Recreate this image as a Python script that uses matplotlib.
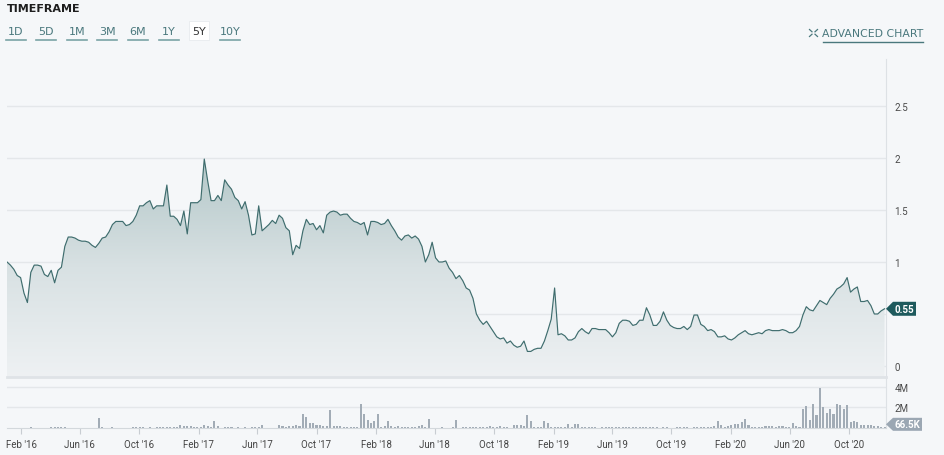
import numpy as np
import pandas as pd
import matplotlib
matplotlib.use('Agg')
import matplotlib.pyplot as plt
import matplotlib.dates as mdates
from matplotlib.colors import LinearSegmentedColormap
from matplotlib.patches import Polygon, PathPatch, Rectangle
from matplotlib.lines import Line2D

plt.rcParams['font.family'] = ['Roboto', 'DejaVu Sans']

# ---------------- data (weekly) ----------------
start_date = '2016-01-03'
price = [
    1.00, 0.97, 0.93, 0.87, 0.85, 0.70, 0.61, 0.90, 0.97, 0.97,
    0.96, 0.88, 0.86, 0.92, 0.80, 0.92, 0.95, 1.15, 1.24, 1.24,
    1.23, 1.21, 1.20, 1.20, 1.19, 1.16, 1.14, 1.18, 1.23, 1.24,
    1.29, 1.36, 1.39, 1.39, 1.39, 1.35, 1.36, 1.39, 1.45, 1.54,
    1.54, 1.57, 1.59, 1.51, 1.54, 1.54, 1.54, 1.74, 1.44, 1.44,
    1.41, 1.35, 1.49, 1.27, 1.57, 1.57, 1.57, 1.60, 1.99, 1.78,
    1.59, 1.59, 1.64, 1.59, 1.79, 1.74, 1.70, 1.62, 1.59, 1.51,
    1.58, 1.45, 1.26, 1.27, 1.54, 1.30, 1.33, 1.36, 1.40, 1.37,
    1.45, 1.42, 1.33, 1.30, 1.07, 1.16, 1.13, 1.30, 1.41, 1.36,
    1.37, 1.31, 1.35, 1.28, 1.45, 1.48, 1.49, 1.48, 1.45, 1.46,
    1.46, 1.42, 1.39, 1.38, 1.36, 1.38, 1.26, 1.39, 1.39, 1.38,
    1.36, 1.37, 1.41, 1.35, 1.30, 1.24, 1.21, 1.25, 1.26, 1.23,
    1.25, 1.22, 1.15, 1.00, 1.07, 1.19, 1.04, 1.00, 1.00, 1.01,
    0.94, 0.90, 0.84, 0.87, 0.82, 0.75, 0.73, 0.65, 0.50, 0.44,
    0.40, 0.43, 0.38, 0.33, 0.28, 0.26, 0.27, 0.22, 0.24, 0.20,
    0.18, 0.19, 0.24, 0.14, 0.14, 0.16, 0.17, 0.17, 0.24, 0.34,
    0.45, 0.75, 0.30, 0.31, 0.29, 0.25, 0.25, 0.27, 0.33, 0.36,
    0.33, 0.31, 0.36, 0.36, 0.35, 0.35, 0.35, 0.32, 0.28, 0.32,
    0.41, 0.44, 0.44, 0.43, 0.39, 0.40, 0.44, 0.44, 0.56, 0.49,
    0.39, 0.39, 0.43, 0.52, 0.44, 0.39, 0.37, 0.36, 0.36, 0.38,
    0.35, 0.38, 0.49, 0.49, 0.40, 0.38, 0.34, 0.35, 0.33, 0.28,
    0.28, 0.29, 0.26, 0.25, 0.27, 0.30, 0.32, 0.34, 0.31, 0.30,
    0.31, 0.32, 0.31, 0.34, 0.35, 0.34, 0.34, 0.34, 0.35, 0.34,
    0.32, 0.32, 0.34, 0.38, 0.49, 0.57, 0.54, 0.53, 0.58, 0.63,
    0.61, 0.59, 0.65, 0.69, 0.74, 0.76, 0.79, 0.85, 0.71, 0.74,
    0.76, 0.62, 0.62, 0.63, 0.58, 0.50, 0.50, 0.53, 0.55,
]
volume_m = [
    0, 0, 0, 0, 0, 0, 0, 0.08, 0, 0,
    0, 0, 0, 0.05, 0.05, 0.08, 0.08, 0.06, 0, 0,
    0, 0, 0, 0.03, 0, 0.04, 0, 1.0, 0.12, 0,
    0, 0.08, 0, 0, 0, 0, 0, 0.1, 0.12, 0.06,
    0.05, 0.04, 0.05, 0.03, 0.08, 0.1, 0.06, 0.1, 0.12, 0.1,
    0.1, 0.3, 0.22, 0.2, 0.18, 0.12, 0.1, 0.05, 0.25, 0.18,
    0.1, 0.7, 0.15, 0, 0.05, 0.05, 0.05, 0.04, 0.05, 0.03,
    0.05, 0.04, 0.05, 0.1, 0.08, 0.3, 0, 0, 0, 0,
    0.3, 0.15, 0.12, 0.2, 0.18, 0.25, 0.2, 1.35, 1.1, 0.45,
    0.5, 0.3, 0.25, 0.2, 0.15, 1.7, 0.2, 0.18, 0.15, 0.12,
    0.05, 0.1, 0.05, 0.1, 2.35, 1.35, 0.8, 0.45, 0.65, 1.4,
    0.1, 0.15, 0.65, 0.15, 0.12, 0.15, 0.08, 0.05, 0.05, 0.08,
    0.05, 0.15, 0.3, 0.1, 0.9, 0, 0, 0, 0.05, 0,
    0, 0.05, 0.8, 0, 0.1, 0.12, 0.1, 0.08, 0.12, 0.1,
    0.12, 0.1, 0.15, 0.12, 0.1, 0.15, 0.12, 0.05, 0, 0.25,
    0.3, 0.25, 0.2, 1.3, 0.65, 0.1, 0.12, 0.1, 0.7, 0.45,
    0.1, 0.08, 0.1, 0.05, 0.05, 0.35, 0.1, 0.35, 0.38, 0.1,
    0.12, 0.1, 0.08, 0.05, 0, 0.1, 0.12, 0.1, 0.08, 0.1,
    0.08, 0.05, 0.1, 0.12, 0.1, 0.08, 0.1, 0.12, 0.1, 0.05,
    0.08, 0.1, 0, 0.08, 0.05, 0, 0, 0.05, 0.05, 0.05,
    0.05, 0, 0.05, 0.05, 0.08, 0.1, 0.05, 0.1, 0.15, 0.7,
    0.3, 0.12, 0.15, 0.3, 0.35, 0.4, 0.6, 0.9, 0.25, 0.1,
    0.05, 0.08, 0.05, 0.15, 0.2, 0.15, 0.12, 0.2, 0.15, 0.1,
    0.1, 0.45, 0.2, 0.1, 1.85, 2.15, 0.8, 2.3, 1.25, 3.9,
    2.0, 1.5, 1.85, 1.4, 2.3, 2.25, 1.8, 2.25, 0.55, 0.7,
    0.6, 0.3, 0.25, 0.3, 0.25, 0.2, 0.15, 0.12, 0.0665,
]
price_ticks = [0, 0.5, 1, 1.5, 2, 2.5]
# the 0.5 label sits hidden under the last-price tag in the reference
price_tick_labels = ['0', '', '1', '1.5', '2', '2.5']
vol_ticks = [2, 4]
vol_tick_labels = ['2M', '4M']
last_price_label = '0.55'
last_volume_label = '66.5K'
timeframes = ['1D', '5D', '1M', '3M', '6M', '1Y', '5Y', '10Y']
active_tf = '5Y'
x_tick_dates = pd.date_range('2016-02-01', '2020-10-01', freq='4MS')

dates = pd.date_range(start_date, periods=len(price), freq='W-SUN')

# ---------------- figure ----------------
W, H = 945, 456
BG = '#f5f7f9'
GRID = '#e4e7ea'
LINE = '#3f6d6e'
TEAL_TXT = '#4a787d'
fig = plt.figure(figsize=(W / 100, H / 100), dpi=100)
fig.patch.set_facecolor(BG)


def rect(x0, y0, x1, y1):
    return [x0 / W, 1 - y1 / H, (x1 - x0) / W, (y1 - y0) / H]


def fx(x):
    return x / W


def fy(y):
    return 1 - y / H


xl0 = mdates.date2num(pd.Timestamp(start_date))
xl1 = xl0 + 879 / 0.4859

# ---- price panel ----
ax = fig.add_axes(rect(7, 60, 886, 378))
ax.set_facecolor('none')
ybot, ytop = -0.106, 2.952
coll = ax.fill_between(dates, price, ybot, facecolor='none', edgecolor='none')
cmap = LinearSegmentedColormap.from_list('g', ['#eef1f3', '#d8e1e3', '#b3c7c8'])
grad = np.linspace(1, 0, 256).reshape(-1, 1)
img = ax.imshow(grad, cmap=cmap, aspect='auto', origin='upper',
                extent=[mdates.date2num(dates[0]), mdates.date2num(dates[-1]), ybot, 2.0],
                zorder=1, interpolation='bilinear')
clip = PathPatch(coll.get_paths()[0], transform=ax.transData, facecolor='none', edgecolor='none')
ax.add_patch(clip)
img.set_clip_path(clip)
ax.plot(dates, price, color=LINE, lw=0.85, zorder=3)
ax.set_xlim(xl0, xl1)
ax.set_ylim(ybot, ytop)
ax.yaxis.tick_right()
ax.set_yticks(price_ticks)
ax.set_yticklabels(price_tick_labels)
ax.tick_params(axis='y', length=0, pad=6, labelsize=7, labelcolor='#4a4a4a')
ax.tick_params(axis='x', bottom=False, labelbottom=False)
ax.grid(axis='y', color=GRID, lw=1.0, zorder=0)
ax.set_axisbelow(True)
for s in ['top', 'left']:
    ax.spines[s].set_visible(False)
ax.spines['right'].set_color('#dde1e5')
ax.spines['bottom'].set_color('#dfe3e7')
ax.spines['bottom'].set_linewidth(2)

# ---- volume panel ----
vx = fig.add_axes(rect(7, 380, 886, 429))
vx.set_facecolor('none')
vx.bar(dates, volume_m, width=4.2, color='#a2acb6', zorder=2)
vx.set_xlim(xl0, xl1)
vx.set_ylim(0, 4.75)
vx.yaxis.tick_right()
vx.set_yticks(vol_ticks)
vx.set_yticklabels(vol_tick_labels)
vx.tick_params(axis='y', length=0, pad=6, labelsize=7, labelcolor='#4a4a4a')
vx.grid(axis='y', color=GRID, lw=1.0, zorder=0)
vx.set_axisbelow(True)
vx.set_xticks(x_tick_dates)
vx.xaxis.set_major_formatter(mdates.DateFormatter("%b '%y"))
vx.tick_params(axis='x', length=4, color='#c8cdd2', labelsize=7, labelcolor='#444444', pad=4)
for s in ['top', 'left']:
    vx.spines[s].set_visible(False)
vx.spines['right'].set_color('#dde1e5')
vx.spines['bottom'].set_color('#d3d8dc')

# ---- value tags ----
fig.canvas.draw()
_, py = ax.transData.transform((xl1, price[-1]))
py_px = H - py
tag = Polygon([(fx(886), fy(py_px)), (fx(893), fy(py_px - 7)), (fx(916), fy(py_px - 7)),
               (fx(916), fy(py_px + 7)), (fx(893), fy(py_px + 7))],
              closed=True, transform=fig.transFigure, facecolor='#1e5a5d', edgecolor='none', zorder=10)
fig.patches.append(tag)
fig.text(fx(904.5), fy(py_px), last_price_label, color='white', fontsize=7, weight='bold',
         ha='center', va='center', zorder=11)

_, vy = vx.transData.transform((xl1, volume_m[-1]))
vy_px = H - vy - 3
tag2 = Polygon([(fx(886), fy(vy_px)), (fx(893), fy(vy_px - 6.5)), (fx(922), fy(vy_px - 6.5)),
                (fx(922), fy(vy_px + 6.5)), (fx(893), fy(vy_px + 6.5))],
               closed=True, transform=fig.transFigure, facecolor='#9ba7b3', edgecolor='none', zorder=10)
fig.patches.append(tag2)
fig.text(fx(907.5), fy(vy_px), last_volume_label, color='white', fontsize=7, weight='bold',
         ha='center', va='center', zorder=11)

# ---- header UI ----
fig.text(fx(7), fy(9), 'TIMEFRAME', fontsize=8, weight='bold', color='#1e1e1e',
         ha='left', va='center', family=['DejaVu Sans'])
centers = [16, 46, 77, 107.5, 138, 169, 199, 230.5]
for lab, cx in zip(timeframes, centers):
    if lab == active_tf:
        fig.patches.append(Rectangle((fx(cx - 10), fy(41)), 20 / W, 19 / H, transform=fig.transFigure,
                                     facecolor='white', edgecolor='#e8ebee', lw=0.6, zorder=1))
        fig.text(fx(cx), fy(32), lab, fontsize=8, color='#333333', ha='center', va='center', zorder=2,
                 family=['DejaVu Sans'])
    else:
        fig.text(fx(cx), fy(32), lab, fontsize=8, color=TEAL_TXT, ha='center', va='center',
                 family=['DejaVu Sans'])
        fig.lines.append(Line2D([fx(cx - 10), fx(cx + 10)], [fy(40.7), fy(40.7)],
                                transform=fig.transFigure, color='#7aa3a5', lw=1.2))

fig.text(fx(923), fy(34), 'ADVANCED CHART', fontsize=7.8, color=TEAL_TXT, ha='right', va='center',
         family=['DejaVu Sans'])
fig.lines.append(Line2D([fx(823), fx(923.5)], [fy(43.3), fy(43.3)],
                        transform=fig.transFigure, color=TEAL_TXT, lw=1.0))
# expand icon (four corner arrows)
icx, icy = 813.5, 34
for dx, dy in [(-1, -1), (1, -1), (-1, 1), (1, 1)]:
    x_out, y_out = icx + dx * 4, icy + dy * 3.5
    x_in, y_in = icx + dx * 1.5, icy + dy * 1.2
    fig.lines.append(Line2D([fx(x_out), fx(x_in)], [fy(y_out), fy(y_in)],
                            transform=fig.transFigure, color=TEAL_TXT, lw=0.9))

fig.savefig('out.png', dpi=100, facecolor=BG)
